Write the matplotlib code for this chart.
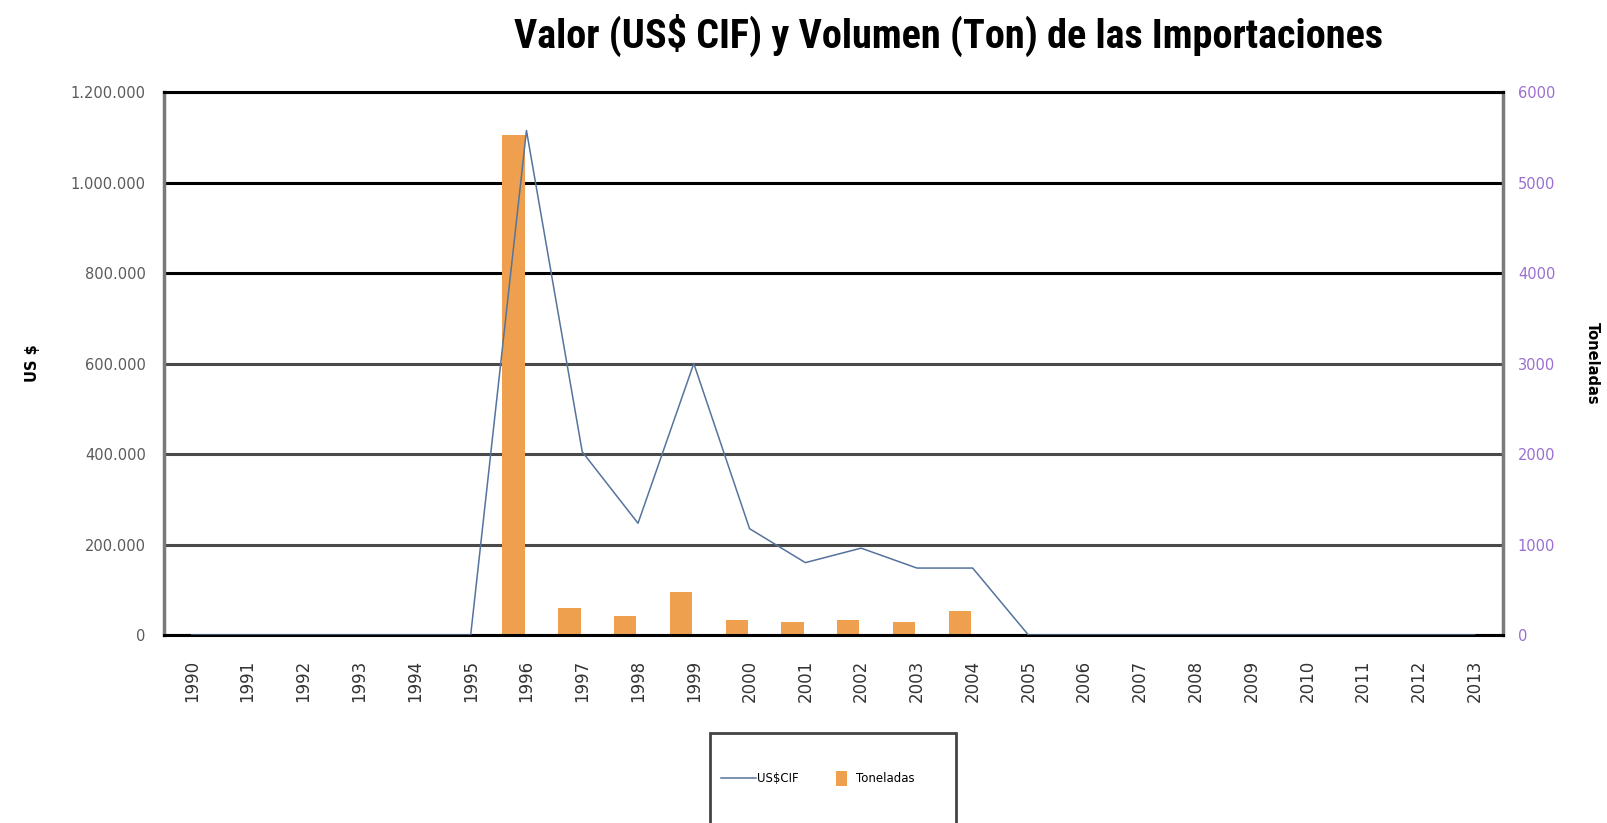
import matplotlib.pyplot as plt
import matplotlib.patches as mpatches
from matplotlib.legend_handler import HandlerPatch
from matplotlib.ticker import FuncFormatter
import numpy as np

years = [str(y) for y in range(1990, 2014)]
# valor US$ CIF (eje izquierdo)
usd_cif = [0, 0, 0, 0, 0, 0, 1115000, 405000, 247000, 600000, 235000, 160000,
           192000, 148000, 148000, 0, 0, 0, 0, 0, 0, 0, 0, 0]
# volumen en toneladas (eje derecho)
toneladas = [0, 0, 0, 0, 0, 0, 5520, 300, 205, 475, 165, 140,
             165, 140, 260, 0, 0, 0, 0, 0, 0, 0, 0, 0]

title_font = ['Roboto Condensed', 'Archivo Narrow', 'DejaVu Sans']

fig = plt.figure(figsize=(16.07, 8.23), dpi=100)
ax = fig.add_axes([0.102, 0.2284, 0.833, 0.6598])
ax2 = ax.twinx()
ax.set_zorder(2)
ax2.set_zorder(1)
ax.patch.set_visible(False)

x = np.arange(len(years))

# barras (toneladas) un poco a la izquierda, como en Excel
bars = ax2.bar(x - 0.23, toneladas, width=0.4, color='#EFA04E', zorder=3)
line, = ax.plot(x, usd_cif, color='#55739C', linewidth=1.1, zorder=4)

ax.set_xlim(-0.5, len(years) - 0.5)
ax.set_ylim(0, 1200000)
ax2.set_ylim(0, 6000)
ax.set_yticks(np.arange(0, 1200001, 200000))
ax2.set_yticks(np.arange(0, 6001, 1000))
ax.yaxis.set_major_formatter(FuncFormatter(lambda v, p: f"{int(v):,}".replace(",", ".")))

ax.set_xticks(x)
ax.set_xticklabels(years, rotation=90, fontsize=12, color='#333333')
ax.tick_params(axis='x', length=0, pad=18)
ax.tick_params(axis='y', length=0, pad=13, labelsize=10.5, labelcolor='#5a5a5a')
ax2.tick_params(axis='y', length=0, pad=11, labelsize=10.5, labelcolor='#9B6FD0')

# lineas de grilla
ax2.set_axisbelow(True)
ax2.yaxis.grid(True, linewidth=2.2)
grid_cols = ['black', '#4a4a4a', '#4a4a4a', '#4a4a4a', 'black', 'black', 'black']
for gl, c in zip(ax2.yaxis.get_gridlines(), grid_cols):
    gl.set_color(c)

for s in ax2.spines.values():
    s.set_visible(False)
ax.spines['left'].set_color('#7a7a7a')
ax.spines['left'].set_linewidth(2.5)
ax.spines['right'].set_color('#7a7a7a')
ax.spines['right'].set_linewidth(2.5)
ax.spines['top'].set_color('black')
ax.spines['top'].set_linewidth(2.2)
ax.spines['bottom'].set_color('black')
ax.spines['bottom'].set_linewidth(2.2)

ax.set_ylabel('US $', fontsize=10.5, fontweight='bold', labelpad=22)
ax2.set_ylabel('Toneladas', fontsize=10.5, fontweight='bold', rotation=-90,
               labelpad=32)

fig.text(0.59, 0.957, 'Valor (US$ CIF) y Volumen (Ton) de las Importaciones',
         ha='center', va='center', fontsize=29, fontweight='bold', family=title_font)


# cuadradito angosto para la leyenda de las barras
def small_box(legend, orig_handle, xdescent, ydescent, width, height, fontsize):
    return mpatches.Rectangle((-xdescent + width - 14, -ydescent + height / 2 - 5.5), 8, 11)


fig.patches.append(mpatches.Rectangle((710 / 1607, -0.02), 246 / 1607, 0.02 + 90 / 823,
                                      transform=fig.transFigure, fill=False,
                                      edgecolor='#444444', linewidth=2))
bar_handle = bars.patches[0]
leg = fig.legend(handles=[line, bar_handle], labels=['US$CIF', 'Toneladas'],
                 loc='center left', bbox_to_anchor=(721 / 1607, 1 - 779 / 823),
                 ncol=2, frameon=False, borderpad=0, borderaxespad=0,
                 handlelength=3, columnspacing=1.8, handletextpad=0.05,
                 handler_map={bar_handle: HandlerPatch(patch_func=small_box)},
                 prop={'size': 8.5})

fig.savefig('out.png', dpi=100)
